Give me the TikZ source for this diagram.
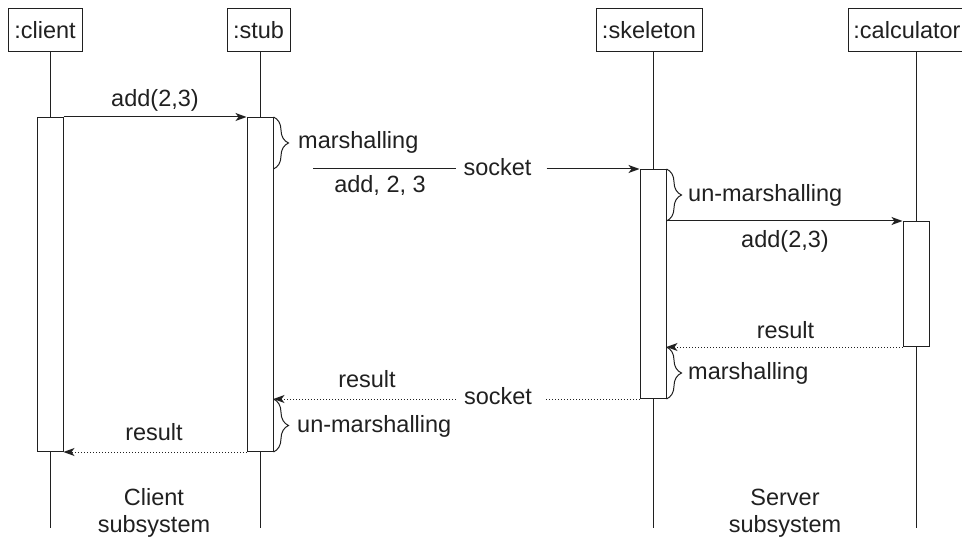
\documentclass[tikz,border=0pt]{standalone}
\usepackage{fontspec}
\setmainfont{Liberation Sans}
\usetikzlibrary{arrows.meta,decorations.pathreplacing,calc}
\definecolor{ink}{HTML}{202020}
\begin{document}
\begin{tikzpicture}[x=1pt,y=-1pt,
  txt/.style={font=\fontsize{23.5}{27}\selectfont},
  obj/.style={txt, draw=ink, text=ink, line width=1pt, minimum height=43pt, inner sep=0pt, text height=17pt, text depth=0pt},
  act/.style={draw=ink, fill=white, line width=1pt, minimum width=26pt, inner sep=0pt, anchor=north},
  life/.style={draw=ink, line width=1pt},
  plain/.style={draw=ink, line width=1pt},
  msg/.style={draw=ink, line width=1pt, -{Stealth[length=11pt,width=8pt,inset=3pt]}},
  dotl/.style={draw=ink, line width=0.9pt, dash pattern=on 1pt off 2pt},
  ret/.style={dotl, -{Stealth[length=11pt,width=8pt,inset=3pt]}},
  lab/.style={txt, text=ink, inner sep=0pt},
  brc/.style={draw=ink, line width=1pt, decorate, decoration={brace, amplitude=15pt}}]
\clip (0,0) rectangle (962,537);
\useasboundingbox (0,0) rectangle (962,537);
% objects
\node[obj, minimum width=74pt] (client) at (45,30.5) {:client};
\node[obj, minimum width=63pt] (stub) at (258.5,30.5) {:stub};
\node[obj, minimum width=106pt] (skel) at (649,30.5) {:skeleton};
\node[obj, minimum width=117pt, anchor=west] (calc) at (848,30.5) {:calculator};
% lifelines
\coordinate (cEnd) at (50,528);
\coordinate (sEnd) at (260,528);
\coordinate (kEnd) at (653,528);
\coordinate (qEnd) at (916,528);
\draw[life] (cEnd |- client.south) -- (cEnd);
\draw[life] (sEnd |- stub.south) -- (sEnd);
\draw[life] (kEnd |- skel.south) -- (kEnd);
\draw[life] (qEnd |- calc.south) -- (qEnd);
% activations
\node[act, minimum height=334pt] (ca) at (50,117) {};
\node[act, minimum height=334pt] (sa) at (260,117) {};
\node[act, minimum height=229pt] (ka) at (653,169) {};
\node[act, minimum height=125pt] (qa) at (916,221) {};
% call add(2,3)
\draw[msg] (ca.north east) -- (sa.north west);
\node[lab, anchor=base] (l1) at (155,107) {add(2,3)};
% marshalling at stub
\draw[brc] (sa.north east) -- (sa.east |- ka.north);
\node[lab, anchor=base west] (l2) at (298,149) {marshalling};
% socket to skeleton
\node[lab, anchor=base] (sock1) at (497.5,176) {socket};
\coordinate (s1L) at (313,169);
\draw[plain] (s1L) -- ($(sock1.west |- s1L)+(-7,0)$);
\draw[msg] ($(sock1.east |- ka.north)+(15,0)$) -- (ka.north west);
\node[lab, anchor=base] (l3) at (380,193) {add, 2, 3};
% un-marshalling at skeleton
\draw[brc] (ka.north east) -- (ka.east |- qa.north);
\node[lab, anchor=base west] (l4) at (688,202) {un-marshalling};
% call calculator
\draw[msg] (ka.east |- qa.north) -- (qa.north west);
\node[lab, anchor=base] (l5) at (785,248) {add(2,3)};
% result from calculator
\draw[ret] (qa.south west) -- (ka.east |- qa.south);
\node[lab, anchor=base] (l6) at (785.5,339) {result};
% marshalling at skeleton
\draw[brc] (ka.east |- qa.south) -- (ka.south east);
\node[lab, anchor=base west] (l7) at (688,380) {marshalling};
% socket back to stub
\node[lab, anchor=base] (sock2) at (498,405) {socket};
\draw[dotl] (ka.south west) -- ($(sock2.east |- ka.south)+(14,0)$);
\draw[ret] ($(sock2.west |- ka.south)+(-8,0)$) -- (sa.east |- ka.south);
\node[lab, anchor=base] (l8) at (367,388) {result};
% un-marshalling at stub
\draw[brc] (sa.east |- ka.south) -- (sa.south east);
\node[lab, anchor=base west] (l9) at (297,432) {un-marshalling};
% result to client
\draw[ret] (sa.south west) -- (ca.south east);
\node[lab, anchor=base] (l10) at (154,441) {result};
% subsystem labels
\node[lab, anchor=base] (cs1) at (154,505) {Client};
\node[lab, anchor=base] (cs2) at (154,532) {subsystem};
\node[lab, anchor=base] (ss1) at (785,505) {Server};
\node[lab, anchor=base] (ss2) at (785,532) {subsystem};
\end{tikzpicture}
\end{document}
